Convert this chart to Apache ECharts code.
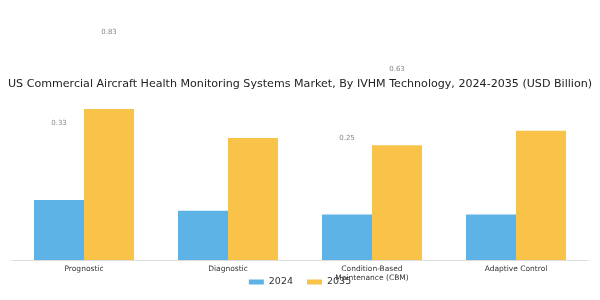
<!DOCTYPE html>
<html>
<head>
<meta charset="utf-8">
<script src="https://cdn.jsdelivr.net/npm/echarts@6/dist/echarts.min.js"></script>
<style>html,body{margin:0;padding:0;background:#fff;}#c{width:600px;height:300px;}</style>
</head>
<body>
<div id="c"></div>
<script>
const categories = ['Prognostic', 'Diagnostic', 'Condition-Based\nMaintenance (CBM)', 'Adaptive Control'];
const values2024 = [0.33, 0.27, 0.25, 0.25];
const values2035 = [0.83, 0.67, 0.63, 0.71];
const labelled = [true, false, true, false];
const seriesNames = ['2024', '2035'];
const colors = ['#5DB3E6', '#F9C34A'];
const titleText = 'US Commercial Aircraft Health Monitoring Systems Market, By IVHM Technology, 2024-2035 (USD Billion)';

function mkData(vals) {
  return vals.map((v, i) => ({
    value: v,
    label: { show: labelled[i] }
  }));
}

const chart = echarts.init(document.getElementById('c'), null, { renderer: 'canvas' });
const labelStyle = {
  position: 'top', offset: [0, -68], color: '#888', fontSize: 7,
  fontFamily: 'DejaVu Sans', formatter: p => p.value.toFixed(2)
};
chart.setOption({
  animation: false,
  backgroundColor: '#fff',
  title: {
    text: titleText, left: 'center', top: 74,
    textStyle: { fontFamily: 'DejaVu Sans', fontSize: 11.1, fontWeight: 'normal', color: '#222' }
  },
  legend: {
    data: seriesNames, bottom: 8, left: 'center', itemWidth: 15, itemHeight: 5, itemGap: 14,
    icon: 'rect',
    textStyle: { fontFamily: 'DejaVu Sans', fontSize: 9.5, color: '#333' }
  },
  grid: { left: 12, right: 12, top: 78, bottom: 40 },
  xAxis: {
    type: 'category', data: categories,
    axisLine: { lineStyle: { color: '#ddd' } },
    axisTick: { alignWithLabel: true, length: 3, lineStyle: { color: '#888' } },
    axisLabel: { fontFamily: 'DejaVu Sans', fontSize: 7.5, color: '#333', margin: 5, lineHeight: 9, interval: 0 }
  },
  yAxis: { type: 'value', min: 0, max: 1, show: false, splitLine: { show: false } },
  series: [
    { name: seriesNames[0], type: 'bar', data: mkData(values2024), barWidth: 50, barGap: '0%',
      itemStyle: { color: colors[0] }, label: labelStyle },
    { name: seriesNames[1], type: 'bar', data: mkData(values2035), barWidth: 50, barGap: '0%',
      itemStyle: { color: colors[1] }, label: labelStyle }
  ]
});
</script>
</body>
</html>
